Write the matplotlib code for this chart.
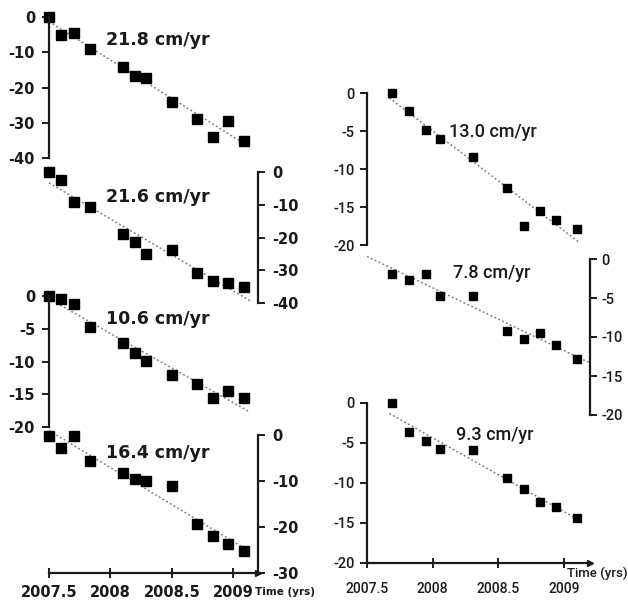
import matplotlib.pyplot as plt
import numpy as np

W, H = 628, 602

# sample dates (decimal years)
left_dates = [2007.50, 2007.60, 2007.70, 2007.83, 2008.10, 2008.20, 2008.29,
              2008.50, 2008.70, 2008.83, 2008.96, 2009.09]
right_dates = [2007.69, 2007.82, 2007.95, 2008.06, 2008.31, 2008.57, 2008.70,
               2008.82, 2008.94, 2009.10]

# displacement in cm, left column top to bottom
p1_vals = [0, -5.1, -4.5, -9.1, -14.1, -16.6, -17.4, -24.0, -28.9, -34.0, -29.5, -35.1]
p2_vals = [0, -2.4, -9.1, -10.8, -19.0, -21.5, -24.9, -23.8, -30.8, -33.2, -33.8, -35.2]
p3_vals = [0, -0.5, -1.2, -4.7, -7.2, -8.7, -9.9, -12.1, -13.5, -15.6, -14.5, -15.6]
p4_vals = [-0.2, -2.8, -0.2, -5.6, -8.3, -9.6, -10.0, -11.1, -19.4, -22.0, -23.7, -25.2]
# right column top to bottom
p5_vals = [0, -2.4, -4.9, -6.0, -8.4, -12.5, -17.5, -15.5, -16.7, -17.9]
p6_vals = [-1.9, -2.7, -1.9, -4.7, -4.7, -9.2, -10.3, -9.5, -11.0, -12.8]
p7_vals = [0, -3.6, -4.8, -5.8, -5.9, -9.4, -10.7, -12.4, -13.0, -14.4]

rates_left = ['21.8 cm/yr', '21.6 cm/yr', '10.6 cm/yr', '16.4 cm/yr']
rates_right = ['13.0 cm/yr', '7.8 cm/yr', '9.3 cm/yr']

year_ticks = [2007.5, 2008, 2008.5, 2009]
year_labels = ['2007.5', '2008', '2008.5', '2009']

BOLD = dict(family=['DejaVu Sans'], fontweight='bold')
NARROW = dict(family=['Roboto', 'DejaVu Sans'], fontweight='medium')
INK = '#1a1a1a'

fig = plt.figure(figsize=(W / 100, H / 100), dpi=100)


def px_axes(l, r, t, b):
    return fig.add_axes([l / W, 1 - b / H, (r - l) / W, (b - t) / H])


def panel(box, dates, vals, ymin, step, side, span, font, fs, pad, ms):
    ax = px_axes(*box)
    ax.set_xlim(2007.5, 2009.2)
    ax.set_ylim(ymin, 0)
    ax.patch.set_visible(False)
    for s in ax.spines:
        ax.spines[s].set_visible(False)
    ax.spines[side].set_visible(True)
    ax.spines[side].set_linewidth(1.6)
    ax.spines[side].set_color(INK)
    ax.yaxis.set_ticks_position(side)
    ticks = np.arange(0, ymin - 1, -step)
    ax.set_yticks(ticks, [str(int(v)) for v in ticks], fontsize=fs, **font)
    ax.tick_params(axis='y', direction='out', length=5, width=1.4, color=INK,
                   pad=pad, labelcolor=INK)
    ax.set_xticks([])
    k, c = np.polyfit(dates, vals, 1)
    xs = np.array(span)
    ax.plot(xs, k * xs + c, linestyle=(0, (1.2, 1.6)), color='#7a7a7a', lw=1.1,
            clip_on=False)
    ax.plot(dates, vals, 's', color='black', ms=ms, clip_on=False)
    return ax


def time_axis(ax, fs, pad, font):
    ax.spines['bottom'].set_visible(True)
    ax.spines['bottom'].set_linewidth(1.6)
    ax.spines['bottom'].set_color(INK)
    ax.set_xticks(year_ticks, year_labels, fontsize=fs, **font)
    ax.tick_params(axis='x', direction='inout', length=7, width=1.4, color=INK,
                   pad=pad, labelcolor=INK)
    ax.plot(1, 0, '>', color=INK, ms=5, transform=ax.transAxes, clip_on=False)


# left column
ax1 = panel((49, 258, 17, 158), left_dates, p1_vals, -40, 10, 'left',
            [2007.5, 2009.13], BOLD, 10.5, 5, 6.5)
ax2 = panel((49, 258, 172, 303), left_dates, p2_vals, -40, 10, 'right',
            [2007.5, 2009.14], BOLD, 10.5, 5, 6.5)
ax3 = panel((49, 258, 296, 427), left_dates, p3_vals, -20, 5, 'left',
            [2007.5, 2009.13], BOLD, 10.5, 5, 6.5)
ax4 = panel((49, 258, 435, 573), left_dates, p4_vals, -30, 10, 'right',
            [2007.5, 2009.14], BOLD, 10.5, 5, 6.5)
time_axis(ax4, 10.5, 5, BOLD)

# right column
ax5 = panel((367, 590, 93, 245), right_dates, p5_vals, -20, 5, 'left',
            [2007.67, 2009.12], NARROW, 10.5, 4, 6)
ax6 = panel((367, 590, 259, 415), right_dates, p6_vals, -20, 5, 'right',
            [2007.5, 2009.2], NARROW, 10.5, 3, 6)
ax7 = panel((367, 590, 403, 563), right_dates, p7_vals, -20, 5, 'left',
            [2007.67, 2009.1], NARROW, 10.5, 4, 6)
time_axis(ax7, 10, 10, NARROW)

# rate labels
for (x, y), txt in zip([(158, 40), (158, 197), (158, 319), (158, 453)], rates_left):
    fig.text(x / W, 1 - y / H, txt, ha='center', va='center', fontsize=12.5,
             color=INK, **BOLD)
for (x, y), txt in zip([(493, 132), (492, 273), (495, 435)], rates_right):
    fig.text(x / W, 1 - y / H, txt, ha='center', va='center', fontsize=13,
             color=INK, **NARROW)

fig.text(255 / W, 1 - 592 / H, 'Time (yrs)', ha='left', va='center', fontsize=7.5,
         color=INK, **BOLD)
fig.text(567 / W, 1 - 573 / H, 'Time (yrs)', ha='left', va='center', fontsize=9.5,
         color=INK, **NARROW)

fig.savefig('out.png', dpi=100)
